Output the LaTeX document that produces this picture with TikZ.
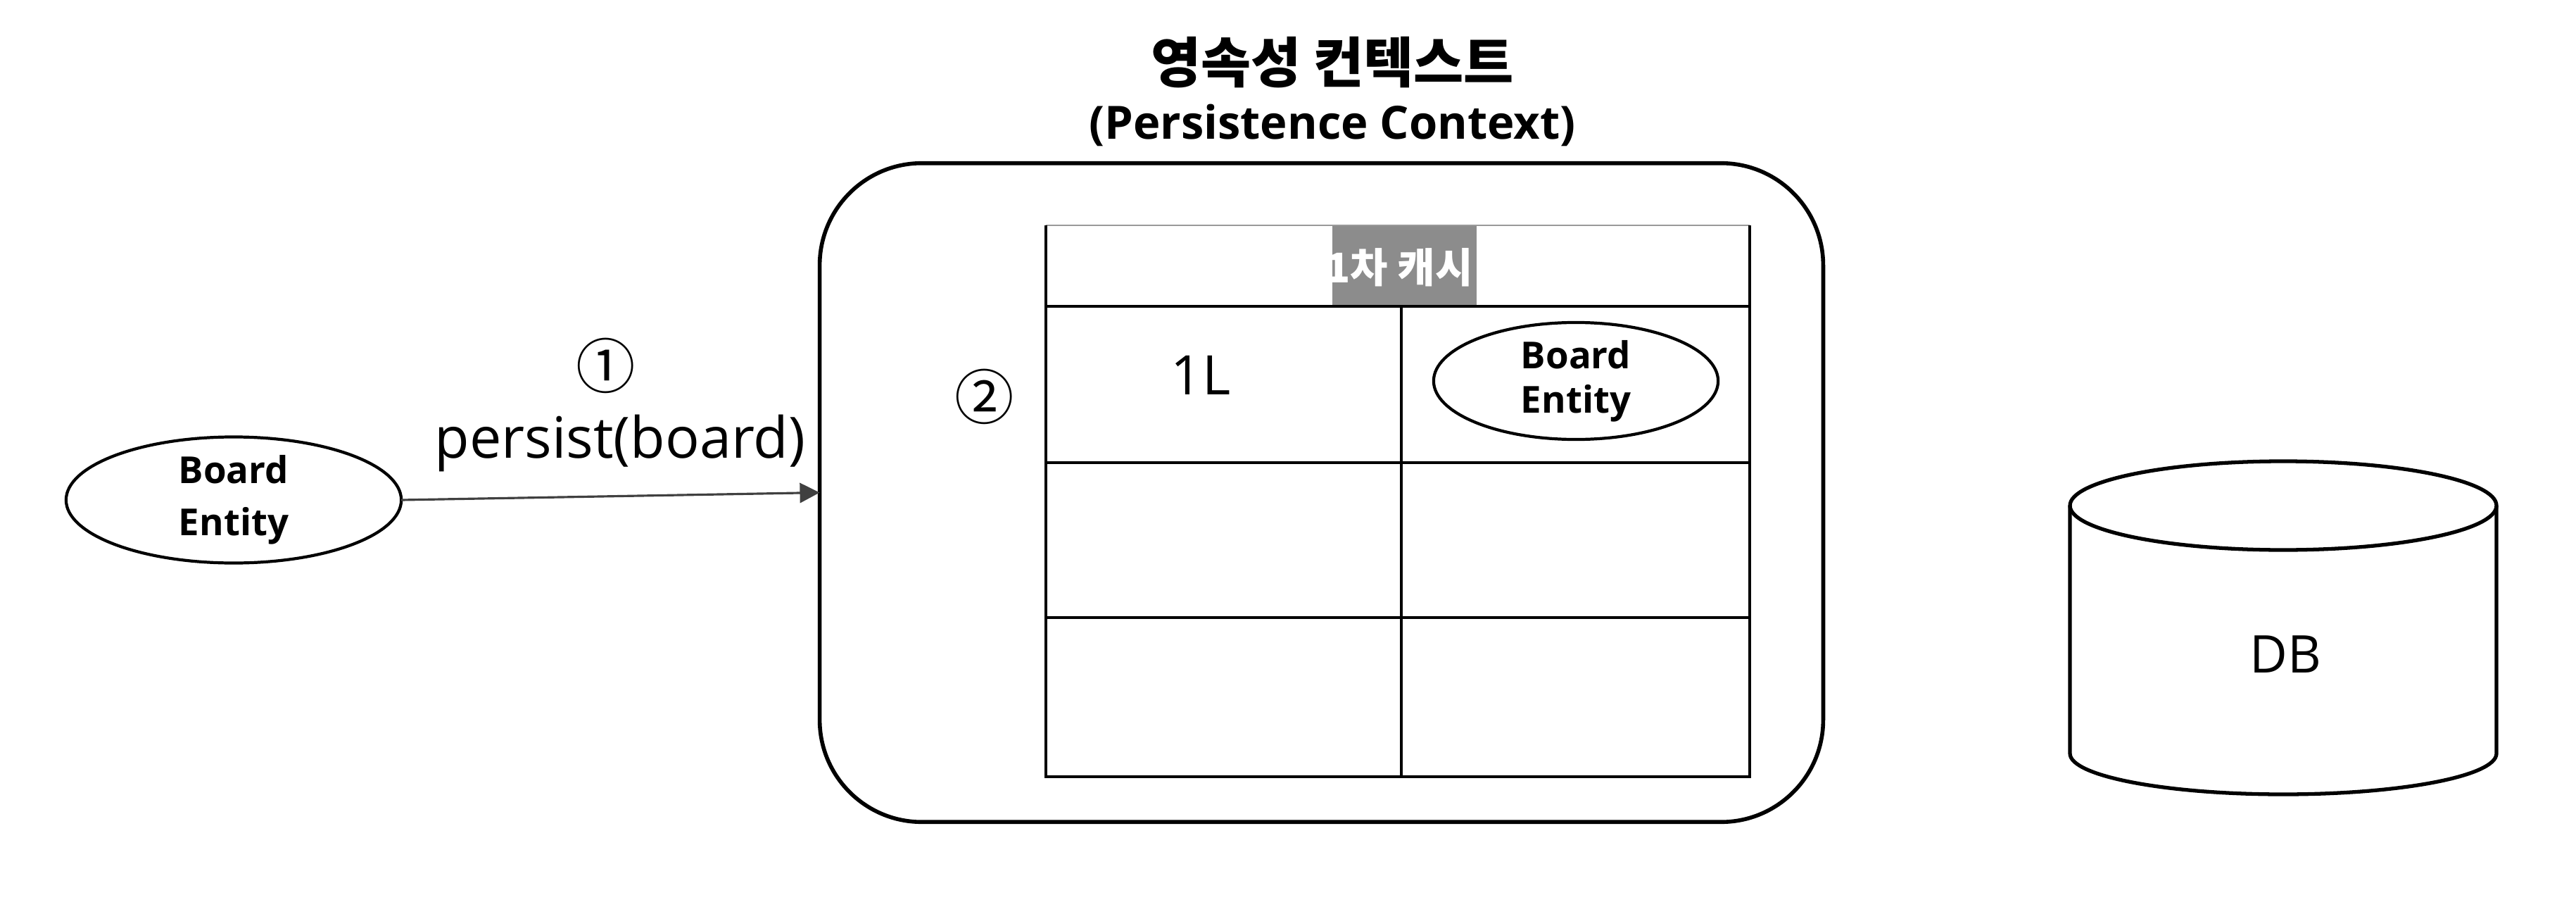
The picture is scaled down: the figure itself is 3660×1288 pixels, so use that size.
\documentclass[tikz,border=0pt]{standalone}
\usepackage{fontspec}
\setmainfont{Open Sans}
\newfontfamily\kr{Noto Sans CJK KR}
\usetikzlibrary{shapes.geometric,arrows.meta}
\begin{document}
\begin{tikzpicture}[x=0.01cm,y=-0.01cm,
  every node/.style={inner sep=0pt, outer sep=0pt},
  ent/.style={draw, line width=1.2pt, ellipse, align=center},
  tline/.style={line width=1.2pt},
  conn/.style={draw=black!75, line width=0.9pt, -{Triangle[length=8pt,width=8pt]}},
  num/.style={font=\kr\fontsize{24}{28}\selectfont},
]
\useasboundingbox (0,0) rectangle (3660,1288);
\fill[white] (0,0) rectangle (3660,1288);

% title
\node[font=\kr\bfseries\fontsize{22}{27}\selectfont] (t1) at (1893,89) {영속성 컨텍스트};
\node[font=\bfseries\fontsize{18.5}{22}\selectfont] (t2) at (1893,178) {(Persistence Context)};

% persistence context box
\node[draw, line width=1.6pt, rounded corners=1.45cm, minimum width=14.25cm, minimum height=9.35cm] (pc) at (1877.5,699.5) {};

% first-level cache table
\node[fill=black!45, minimum width=2.05cm, minimum height=1.15cm] (hdrbg) at (1995.5,377.5) {};
\node[text=white, font=\kr\bfseries\fontsize{16.5}{20}\selectfont] (hdr) at (1988,380) {1차 캐시};
\draw[black!40, line width=0.8pt] (1486,320) -- (2486,320);
\draw[tline] (1486,320) -- (1486,1103) -- (2486,1103) -- (2486,320);
\draw[tline] (1486,435) -- (2486,435);
\draw[tline] (1486,657) -- (2486,657);
\draw[tline] (1486,877) -- (2486,877);
\draw[tline] (1991,435) -- (1991,1103);
\node[font=\fontsize{22}{26}\selectfont] (key) at (1706,533) {1L};
\node[ent, minimum width=4.04cm, minimum height=1.66cm, font=\bfseries\fontsize{15}{18}\selectfont] (cell) at (2239,541) {Board\\Entity};

% entity outside
\node[ent, minimum width=4.76cm, minimum height=1.74cm, font=\bfseries\fontsize{15}{21}\selectfont] (be) at (332,710) {Board\\Entity};
\draw[conn] (be.east) -- (pc.west);
\node[num] (n1) at (861,519) {①};
\node[font=\fontsize{23}{27}\selectfont] (lbl) at (881,629) {persist(board)};
\node[num] (n2) at (1399,563) {②};

% DB cylinder
\draw[line width=1.5pt, fill=white] (2941,718) -- (2941,1070) arc[start angle=180, end angle=0, x radius=303, y radius=58] -- (3547,718);
\draw[line width=1.5pt] (3244,718) ellipse [x radius=303, y radius=63];
\node[font=\fontsize{21}{25}\selectfont] (db) at (3247,929) {DB};
\end{tikzpicture}
\end{document}
